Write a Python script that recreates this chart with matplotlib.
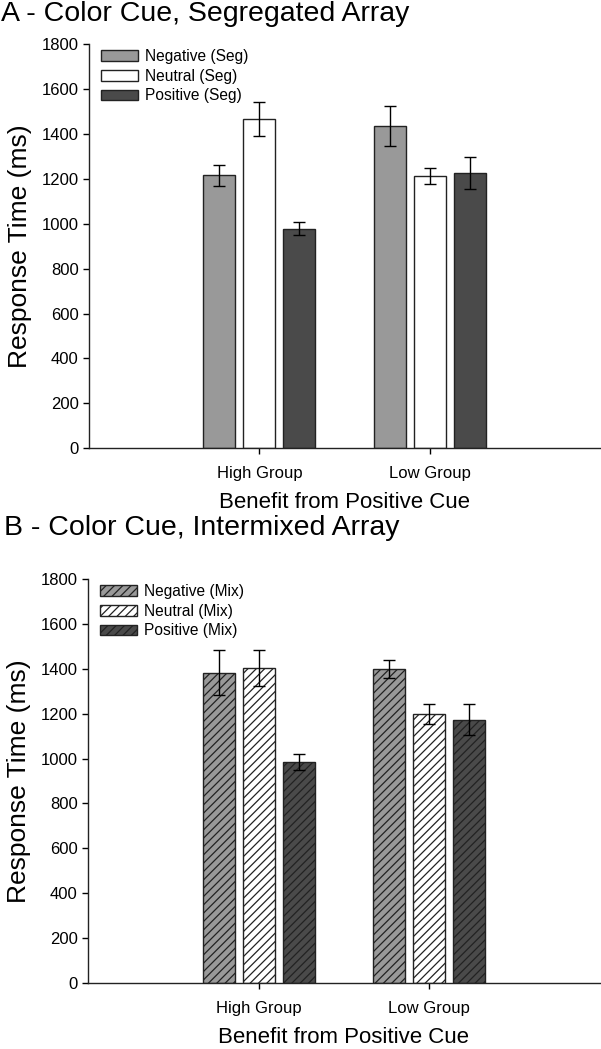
import matplotlib
matplotlib.use('Agg')
import matplotlib.pyplot as plt
import numpy as np

plt.rcParams['font.family'] = ['Liberation Sans', 'DejaVu Sans']
plt.rcParams['hatch.linewidth'] = 0.9

groups = ['High Group', 'Low Group']
conditions = ['Negative', 'Neutral', 'Positive']
bar_colors = ['#999999', '#ffffff', '#4a4a4a']

# panel A - segregated array
seg_means = {'Negative': [1215, 1435], 'Neutral': [1465, 1212], 'Positive': [978, 1226]}
seg_err = {'Negative': [48, 90], 'Neutral': [76, 34], 'Positive': [28, 70]}

# panel B - intermixed array
mix_means = {'Negative': [1383, 1400], 'Neutral': [1402, 1200], 'Positive': [984, 1174]}
mix_err = {'Negative': [100, 41], 'Neutral': [80, 45], 'Positive': [35, 68]}

W, H = 601, 1049
fig = plt.figure(figsize=(W / 100, H / 100), dpi=100)

def draw_panel(rect, means, errs, tag, hatch, title, title_x, title_y):
    ax = fig.add_axes(rect)
    x = np.arange(1, len(groups) + 1)
    width = 0.188
    step = 0.235
    for i, c in enumerate(conditions):
        ax.bar(x + (i - 1) * step, means[c], width, yerr=errs[c],
               color=bar_colors[i], edgecolor='#222222', linewidth=1.0,
               hatch=hatch, label=f'{c} ({tag})',
               error_kw=dict(ecolor='black', elinewidth=1.0, capsize=4.5, capthick=1.0))
    ax.set_xlim(0, 3)
    ax.set_ylim(0, 1800)
    ax.set_yticks(range(0, 1801, 200))
    ax.set_xticks(x)
    ax.set_xticklabels(groups, fontsize=12)
    ax.tick_params(axis='y', labelsize=12, direction='out', length=4, width=1)
    ax.tick_params(axis='x', direction='out', length=4, width=1, pad=9)
    for s in ['top', 'right']:
        ax.spines[s].set_visible(False)
    for s in ['left', 'bottom']:
        ax.spines[s].set_linewidth(1.0)
        ax.spines[s].set_color('#222222')
    ax.set_ylabel('Response Time (ms)', fontsize=19, labelpad=7)
    ax.set_xlabel('Benefit from Positive Cue', fontsize=16, labelpad=8)
    ax.legend(loc='upper left', bbox_to_anchor=(-0.004, 1.022), frameon=False,
              fontsize=11.2, handlelength=2.35, handleheight=0.7,
              labelspacing=0.3, handletextpad=0.5)
    fig.text(title_x / W, 1 - title_y / H, title, fontsize=20.5, va='center', ha='left')
    return ax

draw_panel([89 / W, 1 - 448.3 / H, 511 / W, 404.3 / H], seg_means, seg_err, 'Seg', None,
           'A - Color Cue, Segregated Array', 1, 14)
draw_panel([88 / W, 1 - 983 / H, 512 / W, 404 / H], mix_means, mix_err, 'Mix', '////',
           'B - Color Cue, Intermixed Array', 4, 528)

fig.savefig('out.png', dpi=100)
